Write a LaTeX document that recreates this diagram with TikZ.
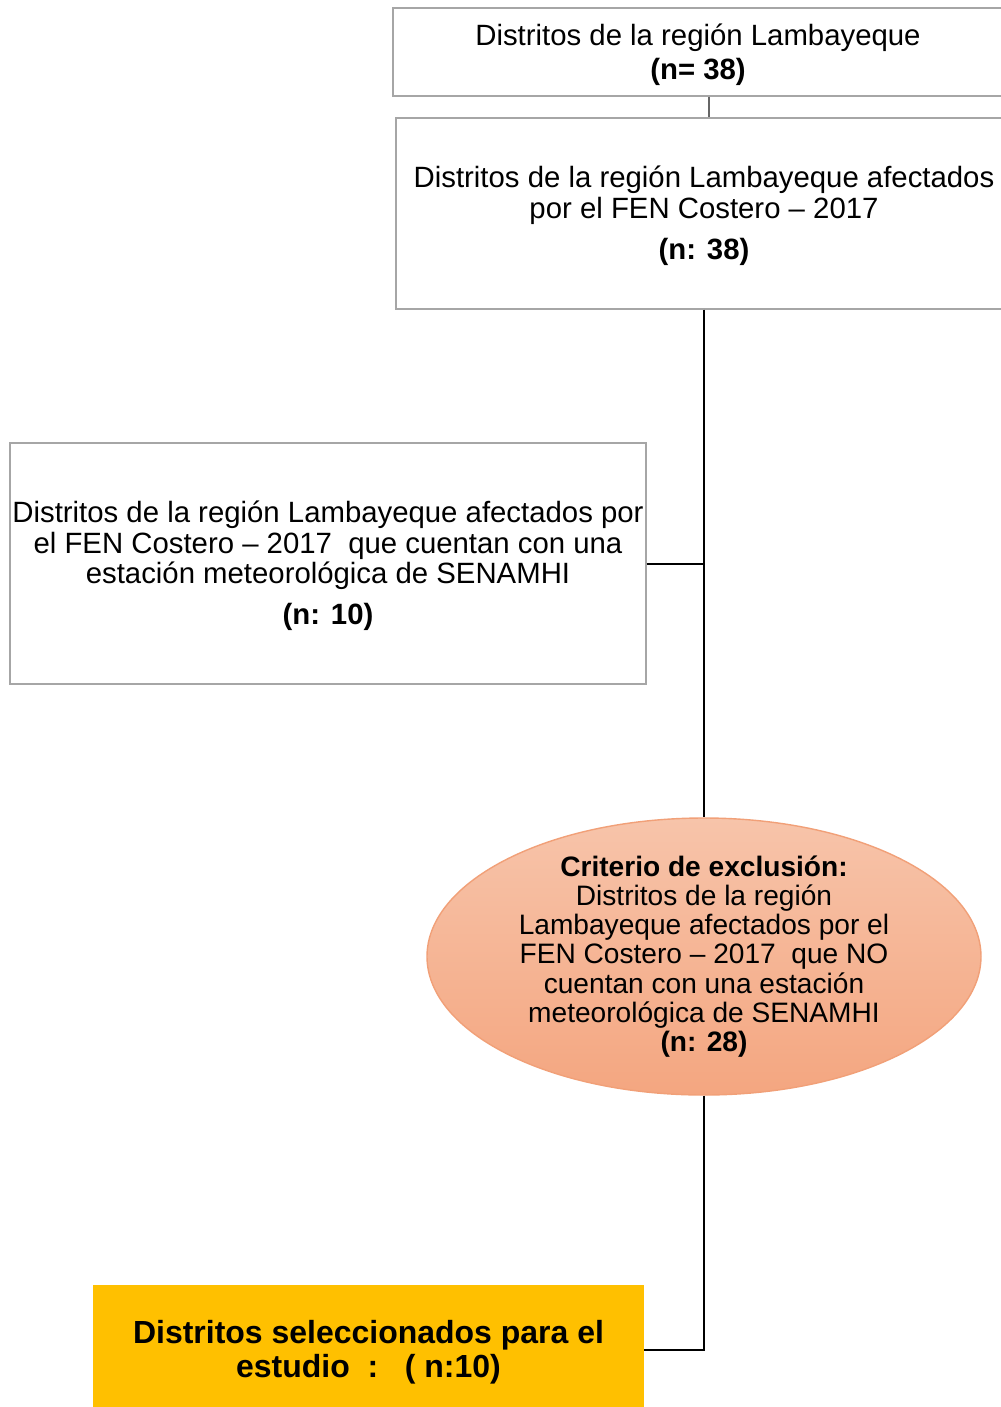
\documentclass[tikz,border=0pt]{standalone}
\usepackage{fontspec}
\setmainfont{Liberation Sans}
\usetikzlibrary{shapes.geometric}

\definecolor{exclTop}{RGB}{247,196,170}
\definecolor{exclBot}{RGB}{244,166,128}
\definecolor{exclLine}{RGB}{241,160,120}
\definecolor{selFill}{RGB}{255,192,0}

\tikzset{
  boxnode/.style={draw=gray!70, line width=0.8pt, rectangle, align=center,
    font=\fontsize{16.7}{17.3}\selectfont, inner sep=0pt},
  exclnode/.style={ellipse, draw=exclLine, line width=0.8pt, top color=exclTop,
    bottom color=exclBot, align=center, font=\fontsize{16}{16.6}\selectfont,
    minimum width=554*0.02cm, minimum height=277*0.02cm, inner xsep=0pt, inner ysep=-3pt},
  selnode/.style={fill=selFill, rectangle, align=center,
    font=\bfseries\fontsize{18.2}{19.5}\selectfont, inner sep=0pt},
  link/.style={line width=1.4pt},
  thinlink/.style={draw=gray!80!black, line width=0.6pt}
}
\newcommand{\topstrut}{\rule{0pt}{15pt}}

\begin{document}
\begin{tikzpicture}[x=0.02cm, y=-0.02cm]
    \useasboundingbox (0,0) rectangle (1001,1407);
    \clip (0,0) rectangle (1001,1407);

    % cajas
    \node[boxnode, minimum width=610*0.02cm, minimum height=88*0.02cm] (total) at (698, 52)
      {\topstrut Distritos de la región Lambayeque\\[2pt] \textbf{(n= 38)}};
    \node[boxnode, minimum width=616*0.02cm, minimum height=191*0.02cm] (afect) at (704, 213.5)
      {\topstrut Distritos de la región Lambayeque afectados\\ por el FEN Costero – 2017\\[6pt] \textbf{(n: 38)}};
    \node[boxnode, minimum width=636*0.02cm, minimum height=241*0.02cm] (conest) at (328, 563.5)
      {\topstrut Distritos de la región Lambayeque afectados por\\ el FEN Costero – 2017\ \ que cuentan con una\\ estación meteorológica de SENAMHI\\[6pt] \textbf{(n: 10)}};

    % criterio
    \node[exclnode] (excl) at (704, 956.5)
      {\textbf{Criterio de exclusión:}\\ Distritos de la región\\ Lambayeque afectados por el\\ FEN Costero – 2017\ \ que NO\\ cuentan con una estación\\ meteorológica de SENAMHI\\ \textbf{(n: 28)}};

    \node[selnode, minimum width=551*0.02cm, minimum height=134*0.02cm] (sel) at (368.5, 1352)
      {Distritos seleccionados para el\\ estudio\ \ :\ \ \ ( n:10)};

    % lineas
    \coordinate (tronco) at (704, 564);
    \coordinate (codo) at (704, 1350);
    \draw[thinlink] (total.south -| 709,0) -- (afect.north -| 709,0);
    \draw[link] (afect.south -| excl.north) -- (excl.north);
    \draw[link] (conest.east |- tronco) -- (tronco);
    \draw[link] (excl.south) -- (codo) -- (sel.east |- codo);

  \end{tikzpicture}
\end{document}
